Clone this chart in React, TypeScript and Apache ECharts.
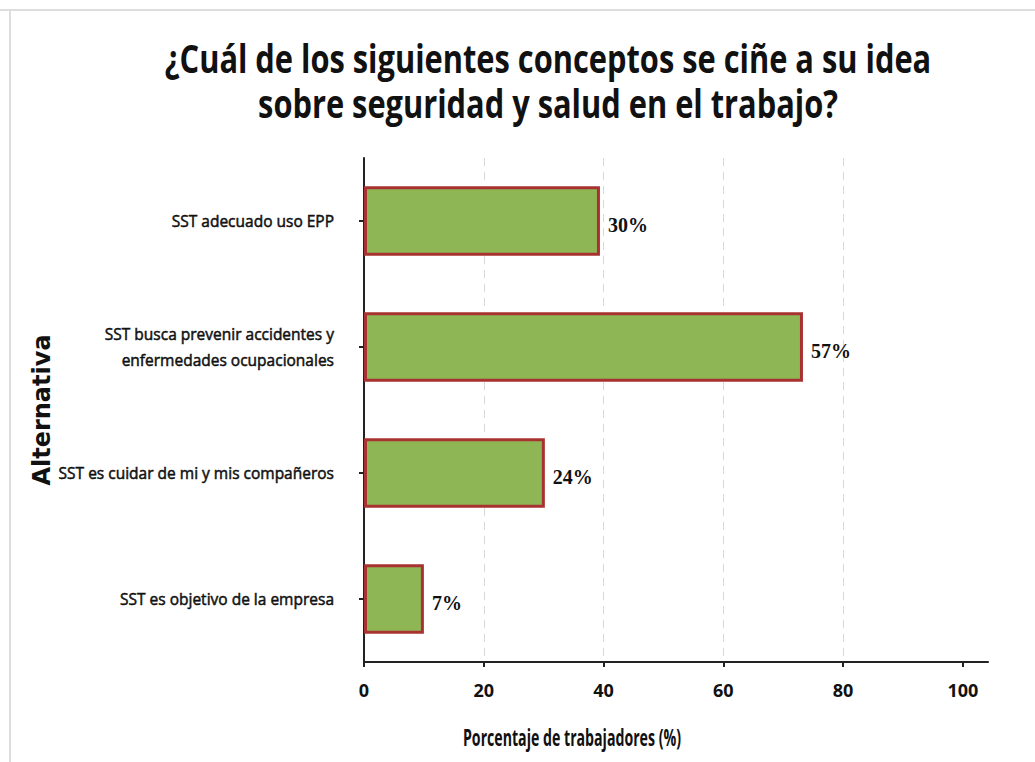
import React, { useEffect, useRef } from "react";
import * as echarts from "echarts";

const categories = [
  "SST adecuado uso EPP",
  "SST busca prevenir accidentes y\nenfermedades ocupacionales",
  "SST es cuidar de mi y mis compañeros",
  "SST es objetivo de la empresa",
];
// bar lengths as drawn in the picture (axis units)
const barValues = [39.4, 73.3, 30.2, 10.0];
// labels printed next to the bars
const valueLabels = ["30%", "57%", "24%", "7%"];
const xTicks = [0, 20, 40, 60, 80, 100];

const titleText = "¿Cuál de los siguientes conceptos se ciñe a su idea\nsobre seguridad y salud en el trabajo?";
const yName = "Alternativa";
const xName = "Porcentaje de trabajadores (%)";

const SANS = "'Open Sans', 'DejaVu Sans', sans-serif";

export default function App() {
  const ref = useRef<HTMLDivElement>(null);
  useEffect(() => {
    document.body.style.margin = "0";
    const chart = echarts.init(ref.current!, null, { renderer: "svg" });
    chart.setOption({
      animation: false,
      backgroundColor: "#ffffff",
      grid: { left: 364, right: 47, top: 158, bottom: 100, outerBoundsMode: "none", containLabel: false },
      xAxis: {
        type: "value",
        min: 0,
        max: 104.2,
        interval: 20,
        axisLine: { show: true, lineStyle: { color: "#222", width: 2 } },
        axisTick: {
          show: true,
          customValues: xTicks,
          length: 5,
          lineStyle: { color: "#222", width: 2 },
        },
        axisLabel: {
          customValues: xTicks,
          margin: 19,
          fontFamily: SANS,
          fontWeight: "bold",
          fontSize: 18,
          color: "#111",
        },
        splitLine: {
          show: true,
          showMinLine: false,
          showMaxLine: false,
          lineStyle: { color: "#d8d8d8", type: [8, 6], width: 1 },
        },
      },
      yAxis: {
        type: "category",
        data: categories,
        inverse: true,
        name: yName,
        nameLocation: "middle",
        nameRotate: 90,
        nameGap: 310,
        nameMoveOverlap: false,
        nameTextStyle: {
          fontFamily: "'DejaVu Sans', sans-serif",
          fontWeight: "bold",
          fontSize: 24,
          color: "#111",
        },
        axisLine: { show: true, lineStyle: { color: "#222", width: 2 } },
        axisTick: {
          show: true,
          alignWithLabel: true,
          length: 5,
          lineStyle: { color: "#222", width: 2 },
        },
        axisLabel: {
          margin: 30,
          fontFamily: SANS,
          fontSize: 15.5,
          lineHeight: 26,
          color: "#111",
          textBorderColor: "#111",
          textBorderWidth: 0.5,
          align: "right",
        },
        splitLine: { show: false },
      },
      series: [
        {
          type: "bar",
          data: barValues,
          barWidth: "55%",
          itemStyle: {
            color: "#8fb655",
            borderColor: "#a83231",
            borderWidth: 3,
          },
          label: {
            show: true,
            position: "right",
            distance: 8,
            formatter: (p: any) => valueLabels[p.dataIndex],
            fontFamily: "'Liberation Serif', serif",
            fontWeight: "bold",
            fontSize: 20,
            color: "#111",
            offset: [0, 4],
          },
        },
      ],
      graphic: [
        {
          type: "text",
          x: 548,
          y: 35,
          scaleX: 0.77,
          style: {
            text: titleText,
            fontFamily: SANS,
            fontWeight: "bold",
            fontSize: 40,
            lineHeight: 45,
            fill: "#111",
            textAlign: "center",
            textVerticalAlign: "top",
            align: "center",
            verticalAlign: "top",
          },
        },
        {
          type: "text",
          x: 572,
          y: 737,
          scaleX: 0.59,
          style: {
            text: xName,
            fontFamily: SANS,
            fontWeight: "bold",
            fontSize: 24,
            fill: "#111",
            textAlign: "center",
            textVerticalAlign: "middle",
            align: "center",
            verticalAlign: "middle",
          },
        },
        {
          type: "line",
          shape: { x1: 0, y1: 10, x2: 1035, y2: 10 },
          style: { stroke: "#dddddd", lineWidth: 2 },
        },
        {
          type: "line",
          shape: { x1: 10, y1: 10, x2: 10, y2: 762 },
          style: { stroke: "#dddddd", lineWidth: 2 },
        },
      ],
    });
    return () => chart.dispose();
  }, []);
  return <div ref={ref} style={{ width: 1035, height: 762 }} />;
}
